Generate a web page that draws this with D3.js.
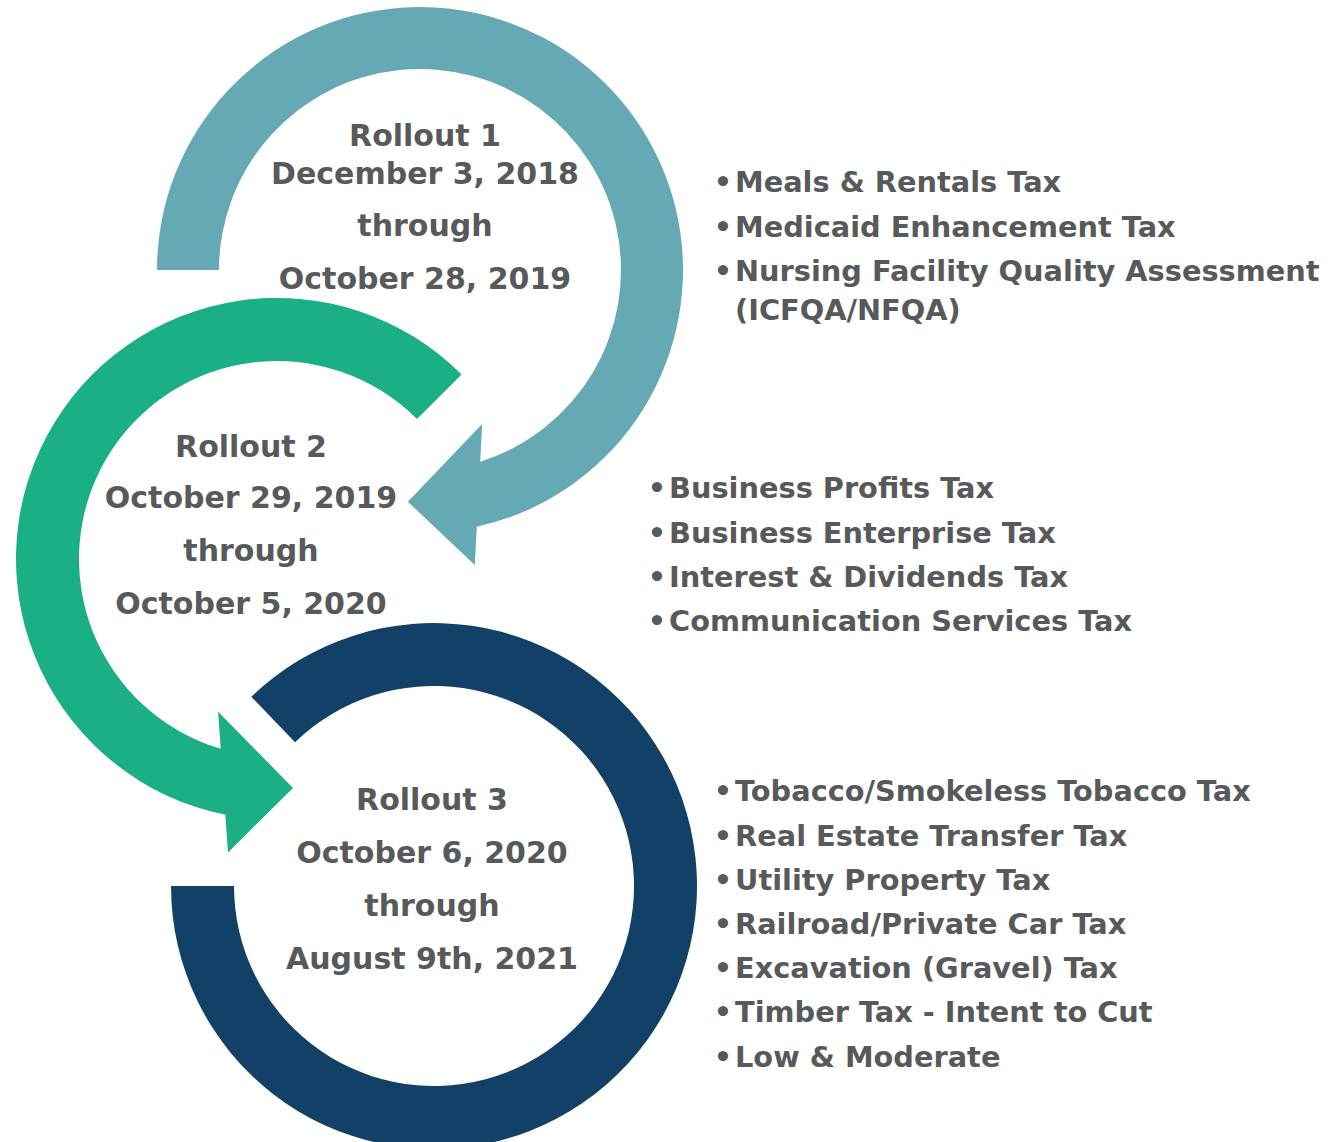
<!DOCTYPE html>
<html>
<head>
<meta charset="utf-8">
<script src="https://cdn.jsdelivr.net/npm/d3@7"></script>
<style>
  body { margin: 0; background: #fff; }
  svg { display: block; }
  text { font-family: "DejaVu Sans", sans-serif; font-weight: bold; fill: #58595b; }
</style>
</head>
<body>
<svg id="viz"></svg>
<script>

var width = 1334, height = 1142

// rollouts
var rollouts = ['Rollout 1', 'Rollout 2', 'Rollout 3']
var startDates = ['December 3, 2018', 'October 29, 2019', 'October 6, 2020']
var endDates = ['October 28, 2019', 'October 5, 2020', 'August 9th, 2021']

// taxes going live in each rollout
var taxes1 = ['Meals & Rentals Tax', 'Medicaid Enhancement Tax',
  'Nursing Facility Quality Assessment (ICFQA/NFQA)']
var taxes2 = ['Business Profits Tax', 'Business Enterprise Tax',
  'Interest & Dividends Tax', 'Communication Services Tax']
var taxes3 = ['Tobacco/Smokeless Tobacco Tax', 'Real Estate Transfer Tax',
  'Utility Property Tax', 'Railroad/Private Car Tax', 'Excavation (Gravel) Tax',
  'Timber Tax - Intent to Cut', 'Low & Moderate']

var colors = ['#65a9b4', '#1aaf85', '#124066']

// ring geometry (angles in degrees, 0 = right, 90 = down)
// a1 = where the arrow head base sits, tip = angle of the head's point
var rings = [
  {cx: 420, cy: 270, R: 263, r: 201, a0: 180, a1: 75.4, dir: 1, tip: 93, head: true},
  {cx: 277, cy: 559, R: 261, r: 198, a0: -45, a1: 103.6, dir: -1, tip: 86, head: true},
  {cx: 434, cy: 886, R: 263, r: 200, a0: -134, a1: 180, dir: 1, head: false}
]
var headHalf = 70.5

// where the texts sit
var ringText = [
  {x: 425, y: [135, 173, 225, 278]},
  {x: 251, y: [446, 497, 550, 603]},
  {x: 432, y: [799, 852, 905, 958]}
]
var lists = [
  {x: 735, y: 182, items: taxes1},
  {x: 669, y: 488, items: taxes2},
  {x: 735, y: 791, items: taxes3}
]
var itemStep = 44.2, wrapStep = 39
var ringFont = 30, listFont = 28.8

var svg = d3.select('svg#viz').attr('width', width).attr('height', height)

function ringPath(g) {
  var rad = Math.PI / 180
  var p = d3.path()
  var a0 = g.a0 * rad, a1 = g.a1 * rad
  var ccw = g.dir < 0
  p.moveTo(g.cx + g.R * Math.cos(a0), g.cy + g.R * Math.sin(a0))

  if (!g.head) {
    p.arc(g.cx, g.cy, g.R, a0, a1, ccw)
    p.lineTo(g.cx + g.r * Math.cos(a1), g.cy + g.r * Math.sin(a1))
    p.arc(g.cx, g.cy, g.r, a1, a0, !ccw)
    p.closePath()
    return p.toString()
  }

  // base midpoint and tip both sit on the mid circle,
  // the base runs parallel to the radius through the tip
  var rm = (g.R + g.r) / 2
  var mx = g.cx + rm * Math.cos(a1), my = g.cy + rm * Math.sin(a1)
  var at = g.tip * rad
  var tx = g.cx + rm * Math.cos(at), ty = g.cy + rm * Math.sin(at)
  var nx = Math.cos(at), ny = Math.sin(at)

  // where the base line cuts a circle of radius rho
  function cut(rho) {
    var dx = mx - g.cx, dy = my - g.cy
    var b = dx * nx + dy * ny
    var c = dx * dx + dy * dy - rho * rho
    var s = Math.sqrt(Math.max(0, b * b - c))
    var t1 = -b + s, t2 = -b - s
    var t = Math.abs(t1) < Math.abs(t2) ? t1 : t2
    var x = mx + t * nx, y = my + t * ny
    return {x: x, y: y, a: Math.atan2(y - g.cy, x - g.cx)}
  }
  var po = cut(g.R), pi = cut(g.r)

  p.arc(g.cx, g.cy, g.R, a0, po.a, ccw)
  p.lineTo(mx + headHalf * nx, my + headHalf * ny)
  p.lineTo(tx, ty)
  p.lineTo(mx - headHalf * nx, my - headHalf * ny)
  p.lineTo(pi.x, pi.y)
  p.arc(g.cx, g.cy, g.r, pi.a, a0, !ccw)
  p.closePath()
  return p.toString()
}

svg.selectAll('path.ring')
  .data(rings)
  .enter().append('path')
    .attr('class', 'ring')
    .attr('d', ringPath)
    .attr('fill', function(d, i) { return colors[i] })

// text inside the rings
ringText.forEach(function(t, i) {
  var lines = [rollouts[i], startDates[i], 'through', endDates[i]]
  svg.append('g').attr('class', 'ring-label')
    .selectAll('text')
    .data(lines)
    .enter().append('text')
      .attr('x', t.x)
      .attr('y', function(d, j) { return t.y[j] })
      .attr('dy', '0.36em')
      .attr('text-anchor', 'middle')
      .style('font-size', ringFont + 'px')
      .text(function(d) { return d })
})

// word wrap against the right edge
var measure = svg.append('text').style('font-size', listFont + 'px').attr('visibility', 'hidden')
function wrapLines(str, maxW) {
  var words = str.split(' '), out = [], line = []
  words.forEach(function(w) {
    var test = line.concat([w]).join(' ')
    measure.text(test)
    if (line.length && measure.node().getComputedTextLength() > maxW) {
      out.push(line.join(' '))
      line = [w]
    } else {
      line.push(w)
    }
  })
  out.push(line.join(' '))
  return out
}

lists.forEach(function(l) {
  var g = svg.append('g').attr('class', 'tax-list')
  var y = l.y
  l.items.forEach(function(item) {
    var lines = wrapLines(item, width - l.x - 8)
    g.append('text')
      .attr('x', l.x - 12)
      .attr('y', y)
      .attr('dy', '0.36em')
      .attr('text-anchor', 'middle')
      .style('font-size', listFont + 'px')
      .text('•')
    lines.forEach(function(s, k) {
      g.append('text')
        .attr('x', l.x)
        .attr('y', y + k * wrapStep)
        .attr('dy', '0.36em')
        .style('font-size', listFont + 'px')
        .text(s)
    })
    y += itemStep + (lines.length - 1) * wrapStep
  })
})
measure.remove()

</script>
</body>
</html>
